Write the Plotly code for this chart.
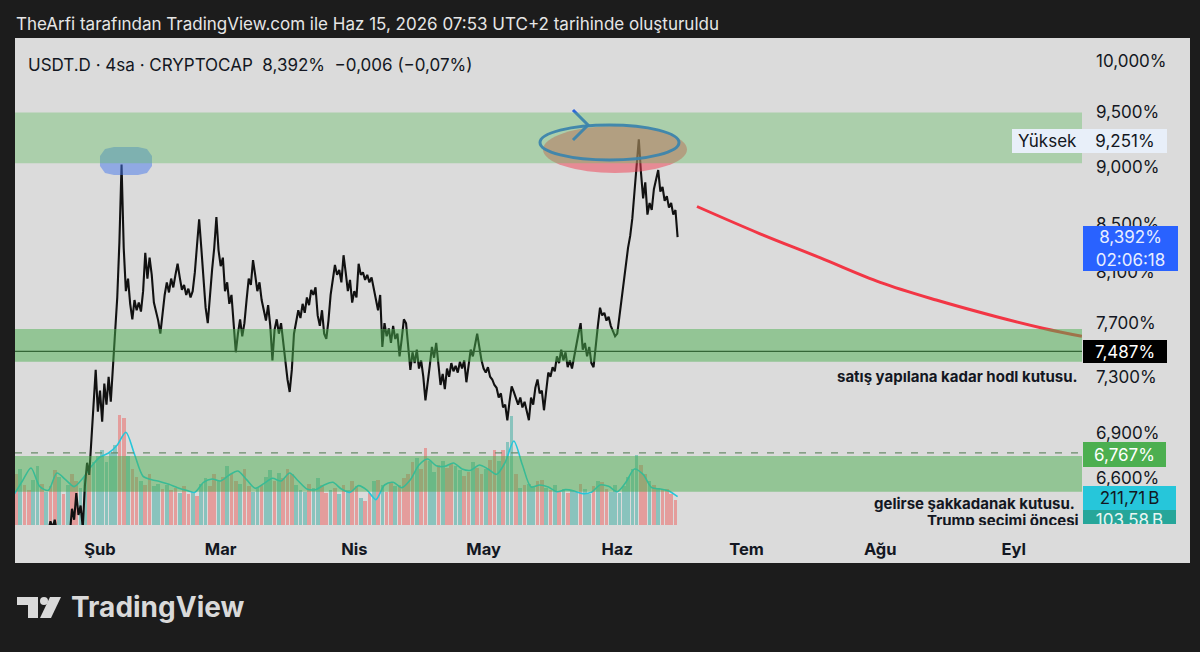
import math

import pandas as pd
import plotly.graph_objects as go

# ---------------------------------------------------------------- data
# USDT.D closes, one value every 12h from 2026-01-12
price = [
    6.22, 6.20, 6.24, 6.21, 6.18, 6.22, 6.25, 6.23, 6.20, 6.24, 6.26, 6.22, 6.19, 6.23,
    6.27, 6.24, 6.26, 6.32, 6.28, 6.33, 6.25, 6.22, 6.27, 6.24, 6.26, 6.29, 6.24, 6.40,
    6.33, 6.50, 6.36, 6.42, 6.28, 6.55, 6.70, 6.62, 6.85, 7.10, 7.35, 7.05, 7.20, 6.98,
    7.25, 7.10, 7.30, 7.12, 7.40, 7.65, 7.90, 8.35, 9.02, 8.30, 7.95, 8.05, 7.85, 7.73,
    7.88, 7.80, 7.86, 7.79, 7.95, 8.26, 8.05, 8.22, 8.08, 7.86, 7.80, 7.72, 7.62, 7.78,
    7.92, 8.02, 7.94, 8.05, 7.98, 8.08, 8.17, 8.06, 7.96, 8.00, 7.92, 7.97, 7.90, 7.95,
    8.10, 8.32, 8.54, 8.30, 8.05, 7.82, 7.70, 7.95, 8.12, 8.30, 8.56, 8.28, 8.15, 8.22,
    7.95, 8.02, 7.85, 7.92, 7.70, 7.48, 7.62, 7.73, 7.60, 7.70, 7.88, 8.05, 8.00, 8.20,
    8.08, 7.95, 8.02, 7.88, 7.80, 7.72, 7.84, 7.68, 7.42, 7.65, 7.73, 7.62, 7.70, 7.55,
    7.40, 7.28, 7.19, 7.35, 7.62, 7.70, 7.80, 7.74, 7.85, 7.78, 7.90, 7.84, 7.96, 7.92,
    7.98, 7.76, 7.68, 7.80, 7.62, 7.58, 7.72, 7.92, 8.05, 8.16, 8.08, 8.12, 8.02, 8.24,
    8.10, 7.95, 8.04, 7.86, 7.95, 7.90, 8.17, 8.08, 8.10, 8.04, 8.08, 8.02, 8.06, 7.98,
    7.90, 7.80, 7.92, 7.52, 7.70, 7.60, 7.66, 7.55, 7.68, 7.58, 7.62, 7.45, 7.58, 7.73,
    7.70, 7.52, 7.35, 7.48, 7.40, 7.50, 7.36, 7.42, 7.30, 7.13, 7.28, 7.38, 7.52, 7.44,
    7.55, 7.40, 7.24, 7.32, 7.21, 7.36, 7.30, 7.40, 7.34, 7.38, 7.33, 7.41, 7.36, 7.42,
    7.26, 7.38, 7.50, 7.45, 7.55, 7.62, 7.52, 7.42, 7.36, 7.33, 7.37, 7.30, 7.28, 7.24,
    7.22, 7.15, 7.18, 7.08, 7.10, 6.99, 7.12, 7.23, 7.19, 7.14, 7.10, 7.15, 7.08, 7.12,
    7.05, 6.99, 7.15, 7.10, 7.22, 7.28, 7.18, 7.20, 7.06, 7.22, 7.33, 7.30, 7.37, 7.34,
    7.45, 7.40, 7.50, 7.42, 7.48, 7.37, 7.42, 7.36, 7.45, 7.55, 7.62, 7.70, 7.50, 7.55,
    7.45, 7.52, 7.40, 7.37, 7.55, 7.68, 7.82, 7.76, 7.78, 7.72, 7.75, 7.68, 7.64, 7.60,
    7.62, 7.75, 7.90, 8.05, 8.15, 8.30, 8.40, 8.55, 8.78, 8.98, 9.25, 8.95, 8.72, 8.86,
    8.58, 8.68, 8.62, 8.80, 8.88, 8.97, 8.78, 8.82, 8.70, 8.74, 8.64, 8.68, 8.58, 8.62,
    8.39,
]
price_x = pd.date_range("2026-01-12", periods=len(price), freq="12h")

# daily volume (B) and candle direction (u = up, d = down)
volume = [
    380, 420, 300, 260, 340, 440, 310,
    250, 290, 410, 360, 230, 300, 380,
    330, 280, 360, 420, 470, 520, 560,
    470, 540, 600, 825, 800, 520, 420,
    360, 330, 300, 380, 290, 310, 270,
    300, 260, 280, 240, 290, 230, 250,
    220, 310, 350, 290, 380, 330, 360,
    440, 380, 330, 310, 420, 290, 250,
    280, 300, 360, 410, 330, 390, 350,
    420, 380, 300, 260, 250, 310, 280,
    350, 300, 240, 260, 280, 230, 300,
    260, 330, 290, 200, 180, 240, 330,
    340, 300, 250, 320, 290, 300, 350,
    380, 470, 500, 420, 580, 480, 400,
    450, 480, 430, 460, 440, 410, 370,
    400, 470, 430, 380, 420, 490, 560,
    480, 560, 620, 820, 380, 280, 300,
    310, 290, 330, 340, 280, 260, 300,
    250, 270, 240, 260, 250, 310, 270,
    230, 290, 330, 320, 270, 250, 300,
    240, 290, 360, 420, 525, 450, 380,
    330, 300, 280, 260, 270, 230, 190,
]
volume_dir = (
    "dudduud" "uddudud" "duuduuu" "uuuddud" "dudduud" "udduddu"
    "duuddud" "udduddu" "uduudud" "dduuudu" "uddudud" "udduddu"
    "duddudd" "ddudduu" "dudduud" "duddudd" "uduudud" "uuddudu"
    "duduudu" "ududduu" "uuuuudd" "ududddd"
)
volume_x = pd.date_range("2026-01-12 12:00", periods=len(volume), freq="D")

# volume moving average (B), every 2 days
volume_ma = [
    225, 330, 428, 290, 260, 390, 340, 288, 350, 440,
    510, 540, 600, 695, 530, 365, 340, 325, 305, 280,
    260, 245, 320, 345, 330, 375, 405, 340, 275, 310,
    350, 330, 390, 330, 270, 265, 300, 320, 270, 245,
    295, 260, 190, 300, 320, 280, 340, 450, 495, 445,
    440, 465, 420, 410, 450, 420, 380, 470, 630, 450,
    285, 300, 285, 250, 265, 255, 235, 245, 300, 290,
    250, 320, 420, 380, 280, 270, 255, 212,
]
volume_ma_x = pd.date_range("2026-01-12", periods=len(volume_ma), freq="2D")

# hand drawn red projection
projection_x = ["2026-06-19 12:00", "2026-07-04", "2026-07-18", "2026-08-01",
                "2026-08-14", "2026-08-28", "2026-09-08", "2026-09-16 19:00"]
projection_y = [8.65, 8.42, 8.22, 8.02, 7.88, 7.75, 7.66, 7.60]

top_zone = (9.03, 9.50)
hodl_zone = (7.41, 7.655)
shake_zone = (6.51, 6.745)
hodl_level = 7.487
dashed_level = 6.767
high_value = 9.251
last_price = 8.392
last_vol_ma = 211.71
last_volume = 103.58

y_ticks = [6.6, 6.9, 7.3, 7.7, 8.1, 8.5, 9.0, 9.5, 10.0]
y_text = ["6,600%", "6,900%", "7,300%", "7,700%", "8,100%", "8,500%",
          "9,000%", "9,500%", "10,000%"]
month_ticks = ["2026-02-01", "2026-03-01", "2026-04-01", "2026-05-01",
               "2026-06-01", "2026-07-01", "2026-08-01", "2026-09-01"]
month_text = ["Şub", "Mar", "Nis", "May", "Haz", "Tem", "Ağu", "Eyl"]

# ---------------------------------------------------------------- layout helpers
FONT = "Inter"
INK = "#131722"
L, R, T, B = 15, 1082, 38, 525


def px(x):
    return (x - L) / (R - L)


def py(y):
    return (B - y) / (B - T)


def path(points, close=True):
    d = "M" + " L".join(f"{px(x):.5f},{py(y):.5f}" for x, y in points)
    return d + (" Z" if close else "")


UP = "rgba(38,166,154,0.45)"
DOWN = "rgba(239,83,80,0.45)"

fig = go.Figure()
fig.add_trace(go.Bar(
    x=volume_x, y=volume, yaxis="y",
    marker=dict(color=[UP if c == "u" else DOWN for c in volume_dir], line_width=0),
    width=0.85 * 86400000, hoverinfo="skip",
))
fig.add_trace(go.Scatter(
    x=volume_ma_x, y=volume_ma, yaxis="y", mode="lines",
    line=dict(color="#26c6da", width=1.6, shape="spline", smoothing=0.8),
    hoverinfo="skip",
))
fig.add_trace(go.Scatter(
    x=price_x, y=price, yaxis="y2", mode="lines",
    line=dict(color="#111111", width=2.1),
))
fig.add_trace(go.Scatter(
    x=projection_x, y=projection_y, yaxis="y2", mode="lines",
    line=dict(color="#f23645", width=3, shape="spline"),
))

shapes = [
    # chart panel
    dict(type="rect", xref="paper", yref="paper", x0=px(15), x1=px(1190),
         y0=py(563), y1=py(38), fillcolor="#dbdbdb", line_width=0, layer="below"),
    # hand drawings
    dict(type="path", xref="paper", yref="paper", layer="above",
         path=path([(114, 147), (138, 147), (147, 149), (152, 156), (152, 166),
                    (147, 173), (138, 175), (114, 175), (105, 173), (100, 166),
                    (100, 156), (105, 149)]),
         fillcolor="rgba(70,120,235,0.5)", line_width=0),
    dict(type="circle", xref="paper", yref="paper", layer="above",
         x0=px(543), x1=px(687), y0=py(173), y1=py(126),
         fillcolor="rgba(242,60,80,0.5)", line_width=0),
    dict(type="circle", xref="paper", yref="paper", layer="above",
         x0=px(540), x1=px(679), y0=py(160), y1=py(125),
         line=dict(color="rgba(35,95,220,0.95)", width=3)),
    dict(type="path", xref="paper", yref="paper", layer="above",
         path=path([(573, 110), (588, 125), (573, 140)], close=False),
         line=dict(color="rgba(35,95,220,0.95)", width=3)),
    # levels and zones
    dict(type="line", xref="paper", yref="y2", x0=0, x1=1, y0=hodl_level, y1=hodl_level,
         line=dict(color="#1c1c1c", width=1.3), layer="above"),
    dict(type="rect", xref="paper", yref="y2", x0=0, x1=1, y0=top_zone[0], y1=top_zone[1],
         fillcolor="rgba(100,190,100,0.4)", line_width=0, layer="above"),
    dict(type="rect", xref="paper", yref="y2", x0=0, x1=1, y0=hodl_zone[0], y1=hodl_zone[1],
         fillcolor="rgba(76,175,80,0.5)", line_width=0, layer="above"),
    dict(type="rect", xref="paper", yref="y2", x0=0, x1=1, y0=shake_zone[0], y1=shake_zone[1],
         fillcolor="rgba(76,175,80,0.5)", line_width=0, layer="above"),
    dict(type="line", xref="paper", yref="y2", x0=0, x1=1, y0=dashed_level, y1=dashed_level,
         line=dict(color="rgba(105,140,105,1)", width=1.3, dash="7px,9px"), layer="above"),
]

# TradingView logo
LOGO = "#d9d9d9"
shapes += [
    dict(type="rect", xref="paper", yref="paper", x0=px(17), x1=px(38), y0=py(605), y1=py(597),
         fillcolor=LOGO, line_width=0),
    dict(type="rect", xref="paper", yref="paper", x0=px(28), x1=px(38), y0=py(618), y1=py(597),
         fillcolor=LOGO, line_width=0),
    dict(type="circle", xref="paper", yref="paper", x0=px(40), x1=px(48), y0=py(605), y1=py(597),
         fillcolor=LOGO, line_width=0),
    dict(type="path", xref="paper", yref="paper",
         path=path([(50, 597), (61, 597), (51, 618), (40, 618)]),
         fillcolor=LOGO, line_width=0),
]


def box(text, yref, value, width, height, bg, color, yshift=0, side="left",
        valign="middle", size=17):
    return dict(
        text=text, xref="paper", x=1, xanchor=side, xshift=1,
        yref=yref, y=math.log10(value) if yref == "y2" else value,
        yanchor="middle", yshift=yshift, width=width, height=height,
        bgcolor=bg, borderpad=0, borderwidth=0, align="center", valign=valign,
        showarrow=False, font=dict(family=FONT, size=size, color=color),
    )


def note(text, x, y, size=15, color=INK, anchor="right"):
    return dict(text=text, xref="paper", yref="paper", x=px(x), y=py(y), xanchor=anchor,
                yanchor="middle", showarrow=False, font=dict(family=FONT, size=size, color=color))


annotations = [
    note("TheArfi tarafından TradingView.com ile Haz 15, 2026 07:53 UTC+2 tarihinde oluşturuldu",
         14, 24, size=17, color="#e6e6e6", anchor="left"),
    note("USDT.D · 4sa · CRYPTOCAP\u00a0\u00a08,392%\u00a0\u00a0−0,006 (−0,07%)",
         26, 65, size=17, anchor="left"),
    box("Yüksek", "y2", high_value, 71, 24, "#e8eff9", INK, yshift=-2, side="right"),
    box("9,251%", "y2", high_value, 84, 24, "#e8eff9", INK, yshift=-2),
    box("8,392%<br>02:06:18", "y2", last_price, 95, 45, "#2962ff", "#e8eeff", yshift=-11.5),
    box("7,487%", "y2", hodl_level, 84, 23, "#000000", "#ffffff"),
    box("6,767%", "y2", dashed_level, 83, 25, "#4caf50", "#ffffff", yshift=-1.5),
    box("211,71\u2009B", "y", last_vol_ma, 93, 24, "#26c6da", INK, yshift=-1),
    box("103,58\u2009B", "y", last_volume, 93, 14, "#26a69a", "#e8f6f4", yshift=-6,
        valign="top"),
    note("<b>satış yapılana kadar hodl kutusu.</b>", 1080, 377),
    note("<b>gelirse şakkadanak kutusu.</b>", 1077, 503),
    dict(text="<b>Trump seçimi öncesi</b>", xref="paper", yref="paper", x=px(1080),
         y=py(510), xanchor="right", yanchor="top", height=14, valign="top",
         borderpad=0, showarrow=False, font=dict(family=FONT, size=15, color=INK)),
    note("<b>TradingView</b>", 69, 607, size=28, color=LOGO, anchor="left"),
]

fig.update_layout(
    width=1200, height=652,
    margin=dict(l=L, r=1200 - R, t=T, b=652 - B),
    paper_bgcolor="#1c1c1c", plot_bgcolor="#dbdbdb",
    showlegend=False, bargap=0,
    font=dict(family=FONT, color=INK),
    xaxis=dict(
        type="date", range=["2026-01-12 06:40", "2026-09-16 19:40"],
        tickvals=month_ticks, ticktext=[f"<b>{m}</b>" for m in month_text],
        ticks="", showgrid=False, zeroline=False, showline=False,
        tickfont=dict(family=FONT, size=16.5, color=INK), ticklabelstandoff=12,
    ),
    yaxis=dict(range=[0, 3652.5], visible=False, fixedrange=True),
    yaxis2=dict(
        type="log", overlaying="y", side="right",
        range=[math.log10(6.297), math.log10(10.232)],
        tickvals=y_ticks, ticktext=y_text, ticks="", showgrid=False,
        zeroline=False, showline=False, ticklabelstandoff=13,
        tickfont=dict(family=FONT, size=17, color=INK),
    ),
    shapes=shapes,
    annotations=annotations,
)

fig.write_html(
    "out.html",
    config={"displayModeBar": False},
    post_script="document.body.style.margin='0';document.body.style.overflow='hidden';",
)
